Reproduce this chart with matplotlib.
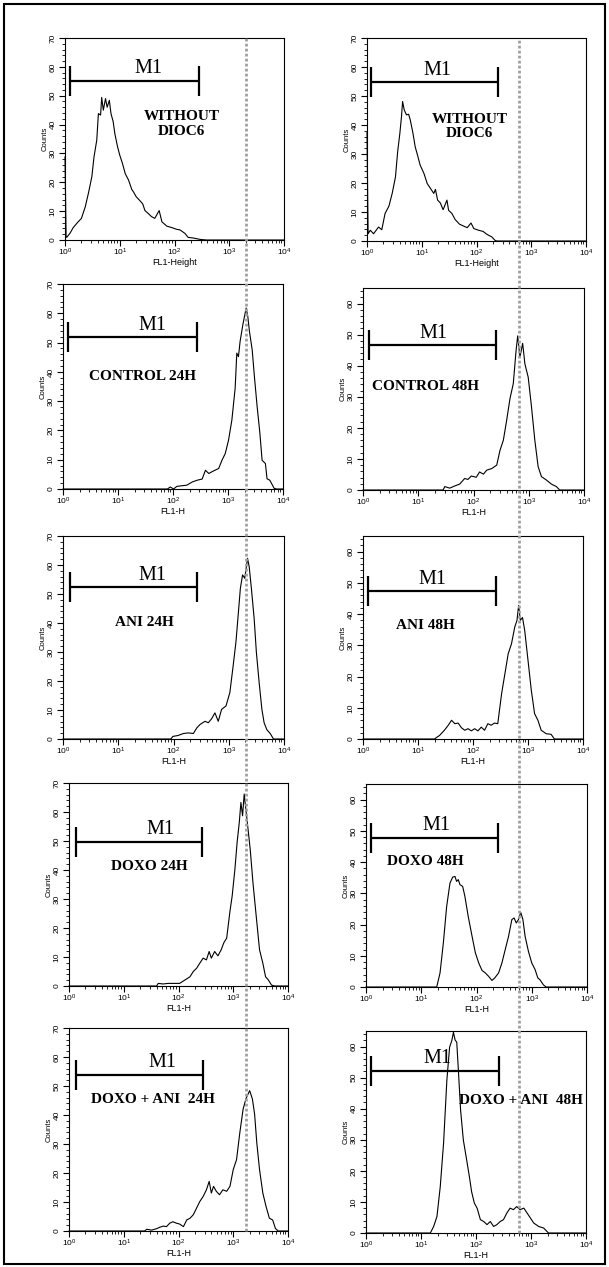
import matplotlib
matplotlib.use("Agg")
import matplotlib.pyplot as plt
from matplotlib.lines import Line2D
from matplotlib.patches import Rectangle
from matplotlib.ticker import LogLocator, MultipleLocator, NullFormatter
import numpy as np

plt.rcParams['font.family'] = ['Liberation Sans', 'DejaVu Sans']
plt.rcParams['mathtext.default'] = 'regular'

W, H = 609, 1267

# histograms: FL1 position in decades (log10) and counts
fl1_without_a = [0.00, 0.02, 0.03, 0.09, 0.15, 0.24, 0.30, 0.37, 0.43, 0.49, 0.53, 0.58, 0.61, 0.65, 0.67, 0.70,
                 0.74, 0.77, 0.81, 0.84, 0.88, 0.91, 0.96, 1.00, 1.05, 1.10, 1.16, 1.22, 1.25, 1.30, 1.36, 1.42,
                 1.46, 1.52, 1.58, 1.64, 1.72, 1.77, 1.86, 1.95, 2.04, 2.10, 2.19, 2.25, 2.34, 2.47, 2.59, 4.00]
cnt_without_a = [28.8, 1.2, 0.9, 2.3, 4.3, 6.3, 7.5, 11.5, 16.4, 21.9, 28.8, 34.6, 43.8, 43.3, 49.4, 45.0,
                 49.0, 46.0, 48.4, 43.8, 41.0, 36.9, 32.3, 29.4, 26.5, 23.0, 20.8, 17.5, 16.7, 15.0, 13.8, 12.5,
                 10.2, 9.2, 8.1, 7.5, 10.2, 6.3, 4.8, 4.3, 3.7, 3.5, 2.3, 0.9, 0.7, 0.2, 0.0, 0.0]

fl1_without_b = [0.00, 0.02, 0.06, 0.12, 0.21, 0.27, 0.33, 0.40, 0.46, 0.52, 0.56, 0.60, 0.63, 0.65, 0.68, 0.72,
                 0.76, 0.79, 0.84, 0.88, 0.93, 0.97, 1.04, 1.10, 1.16, 1.22, 1.25, 1.29, 1.34, 1.39, 1.46, 1.49,
                 1.55, 1.61, 1.69, 1.77, 1.83, 1.90, 1.95, 2.04, 2.12, 2.19, 2.28, 2.34, 2.37, 4.00]
cnt_without_b = [37.4, 2.5, 3.7, 2.5, 4.8, 3.9, 9.5, 12.0, 16.4, 22.1, 30.8, 37.1, 42.9, 48.1, 45.2, 43.5,
                 43.7, 41.8, 37.1, 32.5, 29.1, 26.2, 23.3, 19.8, 18.1, 16.4, 17.8, 14.1, 13.1, 10.8, 14.1, 10.6,
                 9.5, 7.4, 5.8, 5.1, 4.6, 6.2, 4.3, 3.7, 3.3, 2.3, 1.4, 0.2, 0.0, 0.0]

fl1_control_24 = [0.00, 1.90, 1.95, 2.01, 2.07, 2.16, 2.25, 2.35, 2.44, 2.53, 2.59, 2.65, 2.74, 2.83, 2.89, 2.95,
                  3.01, 3.07, 3.13, 3.16, 3.19, 3.22, 3.27, 3.33, 3.36, 3.39, 3.44, 3.48, 3.53, 3.58, 3.62, 3.68,
                  3.71, 3.76, 3.80, 3.84, 3.89, 4.00]
cnt_control_24 = [0.0, 0.0, 0.7, 0.0, 0.9, 1.1, 1.3, 2.4, 3.0, 3.4, 6.4, 5.3, 6.2, 7.0, 9.8, 12.1,
                  16.7, 23.5, 34.4, 46.4, 45.2, 50.4, 56.1, 61.8, 58.9, 53.8, 47.5, 38.4, 28.1, 19.0, 9.8, 8.7,
                  3.5, 3.0, 1.6, 0.2, 0.0, 0.0]

fl1_control_48 = [0.00, 1.45, 1.48, 1.57, 1.66, 1.75, 1.84, 1.90, 1.96, 2.05, 2.11, 2.18, 2.24, 2.33, 2.42, 2.48,
                  2.54, 2.60, 2.66, 2.72, 2.77, 2.80, 2.84, 2.89, 2.93, 2.99, 3.05, 3.11, 3.17, 3.23, 3.32, 3.41,
                  3.50, 3.56, 4.00]
cnt_control_48 = [0.0, 0.0, 1.1, 0.6, 1.3, 1.9, 3.7, 3.4, 4.5, 4.1, 5.8, 5.1, 6.4, 6.9, 8.0, 12.8,
                  16.0, 22.4, 29.4, 34.2, 44.8, 49.6, 42.7, 47.2, 40.6, 36.3, 26.7, 16.0, 7.5, 4.3, 3.2, 1.9,
                  1.1, 0.0, 0.0]

fl1_ani_24 = [0.00, 1.95, 1.99, 2.08, 2.18, 2.27, 2.36, 2.42, 2.48, 2.57, 2.63, 2.69, 2.75, 2.81, 2.87, 2.95,
              3.02, 3.08, 3.13, 3.17, 3.21, 3.25, 3.29, 3.34, 3.37, 3.41, 3.46, 3.50, 3.55, 3.60, 3.64, 3.69,
              3.75, 3.81, 4.00]
cnt_ani_24 = [0.0, 0.0, 0.9, 1.2, 1.9, 2.1, 1.9, 3.8, 5.0, 6.1, 5.6, 7.0, 9.0, 6.1, 10.2, 11.4,
              16.0, 25.3, 33.4, 42.6, 51.9, 56.6, 55.4, 62.3, 59.4, 51.9, 41.5, 29.9, 19.5, 10.2, 5.6, 3.2,
              1.9, 0.0, 0.0]

fl1_ani_48 = [0.00, 1.30, 1.33, 1.39, 1.48, 1.55, 1.61, 1.67, 1.73, 1.79, 1.85, 1.91, 1.97, 2.03, 2.09, 2.15,
              2.21, 2.27, 2.33, 2.39, 2.45, 2.52, 2.58, 2.64, 2.70, 2.76, 2.80, 2.83, 2.86, 2.90, 2.94, 3.00,
              3.06, 3.12, 3.18, 3.24, 3.33, 3.42, 3.48, 4.00]
cnt_ani_48 = [0.0, 0.0, 0.4, 1.1, 2.8, 4.4, 6.0, 4.9, 5.1, 3.6, 2.8, 3.3, 2.6, 3.3, 2.6, 3.8,
              2.8, 4.9, 4.4, 5.1, 4.9, 14.5, 20.9, 27.3, 30.5, 35.9, 38.0, 42.8, 38.0, 38.9, 34.8, 25.2,
              15.6, 8.1, 6.0, 2.8, 1.7, 1.5, 0.0, 0.0]

fl1_doxo_24 = [0.00, 1.60, 1.63, 1.72, 1.81, 2.02, 2.12, 2.21, 2.27, 2.33, 2.39, 2.45, 2.51, 2.56, 2.60, 2.66,
               2.72, 2.78, 2.83, 2.88, 2.94, 2.98, 3.03, 3.07, 3.11, 3.14, 3.17, 3.20, 3.23, 3.27, 3.31, 3.36,
               3.42, 3.48, 3.54, 3.59, 3.64, 3.70, 3.76, 4.00]
cnt_doxo_24 = [0.0, 0.0, 0.9, 0.7, 0.9, 0.9, 2.1, 3.2, 5.0, 6.1, 7.9, 9.6, 9.0, 11.9, 9.6, 11.9,
               10.4, 12.5, 15.0, 16.5, 25.8, 31.0, 40.2, 49.4, 56.4, 63.3, 58.7, 66.2, 61.0, 54.1, 47.1, 35.6,
               24.0, 12.5, 7.9, 3.2, 2.1, 0.3, 0.0, 0.0]

fl1_doxo_48 = [0.00, 1.28, 1.34, 1.40, 1.46, 1.52, 1.57, 1.61, 1.64, 1.67, 1.70, 1.75, 1.79, 1.85, 1.92, 1.98,
               2.04, 2.10, 2.16, 2.22, 2.28, 2.33, 2.40, 2.46, 2.52, 2.58, 2.64, 2.68, 2.72, 2.76, 2.80, 2.84,
               2.88, 2.94, 3.00, 3.06, 3.11, 3.15, 3.21, 3.26, 4.00]
cnt_doxo_48 = [0.0, 0.0, 4.5, 14.1, 25.8, 33.3, 35.2, 35.4, 33.8, 34.4, 32.8, 32.2, 29.0, 22.6, 16.2, 10.9,
               7.7, 5.3, 4.5, 3.4, 2.1, 2.9, 4.5, 7.7, 12.0, 16.2, 21.6, 22.1, 20.5, 21.6, 23.9, 21.6,
               16.2, 11.4, 7.7, 5.6, 2.9, 2.3, 0.7, 0.0, 0.0]

fl1_combo_24 = [0.00, 1.38, 1.42, 1.51, 1.60, 1.66, 1.72, 1.78, 1.84, 1.90, 1.96, 2.02, 2.09, 2.15, 2.21, 2.27,
                2.33, 2.39, 2.45, 2.51, 2.56, 2.60, 2.64, 2.69, 2.75, 2.81, 2.88, 2.94, 3.00, 3.06, 3.12, 3.18,
                3.23, 3.27, 3.30, 3.35, 3.39, 3.43, 3.48, 3.54, 3.60, 3.66, 3.72, 3.77, 3.82, 4.00]
cnt_combo_24 = [0.0, 0.0, 0.6, 0.3, 0.8, 1.3, 1.7, 1.5, 2.7, 3.2, 2.7, 2.4, 1.5, 3.8, 4.4, 5.6,
                7.9, 10.2, 11.9, 14.2, 17.1, 13.1, 15.4, 13.7, 12.5, 14.2, 13.7, 15.4, 21.2, 24.6, 33.9, 42.0,
                45.5, 47.2, 48.4, 45.5, 40.3, 30.4, 21.2, 13.1, 8.4, 4.4, 3.8, 0.9, 0.0, 0.0]

fl1_combo_48 = [0.00, 1.17, 1.23, 1.29, 1.35, 1.41, 1.47, 1.52, 1.56, 1.59, 1.62, 1.65, 1.68, 1.72, 1.77, 1.82,
                1.88, 1.92, 1.97, 2.02, 2.08, 2.14, 2.20, 2.26, 2.32, 2.38, 2.44, 2.50, 2.56, 2.62, 2.68, 2.74,
                2.80, 2.87, 2.93, 2.99, 3.05, 3.14, 3.23, 3.29, 3.32, 4.00]
cnt_combo_48 = [0.0, 0.0, 2.1, 5.3, 14.9, 28.8, 49.1, 59.8, 61.9, 64.6, 62.1, 61.4, 52.3, 39.5, 29.9, 24.6,
                18.1, 13.3, 9.6, 8.0, 4.3, 3.7, 2.7, 3.7, 2.1, 2.7, 3.7, 4.3, 6.4, 8.0, 7.5, 8.5,
                7.5, 8.0, 6.4, 4.8, 3.2, 2.1, 1.6, 0.5, 0.0, 0.0]

fl1_series = [fl1_without_a, fl1_without_b, fl1_control_24, fl1_control_48, fl1_ani_24, fl1_ani_48,
              fl1_doxo_24, fl1_doxo_48, fl1_combo_24, fl1_combo_48]
cnt_series = [cnt_without_a, cnt_without_b, cnt_control_24, cnt_control_48, cnt_ani_24, cnt_ani_48,
              cnt_doxo_24, cnt_doxo_48, cnt_combo_24, cnt_combo_48]

labels = ["WITHOUT\nDIOC6", "WITHOUT\nDIOC6", "CONTROL 24H", "CONTROL 48H", "ANI 24H", "ANI 48H",
          "DOXO 24H", "DOXO 48H", "DOXO + ANI  24H", "DOXO + ANI  48H"]
label_pos = [(2.13, 40.2), (1.88, 39.5), (1.45, 38.4), (1.14, 33.4), (1.48, 40.3), (1.13, 36.2),
             (1.47, 41.1), (1.07, 40.1), (1.53, 45.5), (2.82, 42.7)]
xlabels = ["FL1-Height", "FL1-Height"] + ["FL1-H"] * 8
ymax = [70, 70, 70, 65, 70, 65, 70, 65, 70, 65]

# M1 gate: left/right edge (decades), level (counts), label position (decades)
gate_lo = [0.09, 0.07, 0.09, 0.10, 0.13, 0.09, 0.12, 0.09, 0.13, 0.09]
gate_hi = [2.45, 2.39, 2.43, 2.40, 2.43, 2.41, 2.43, 2.39, 2.44, 2.41]
gate_y = [55.1, 54.7, 51.8, 46.5, 52.3, 47.3, 49.7, 47.7, 53.8, 52.1]
gate_label_x = [1.52, 1.28, 1.62, 1.27, 1.62, 1.27, 1.67, 1.28, 1.70, 1.29]

# reference channel of the dotted marker, per column
marker_fl1 = [2000, 600]

# axes boxes in pixels: x0, y0, x1, y1 (top-left origin)
boxes = [(65, 38, 284, 240), (367, 38, 586, 241),
         (63, 284, 283, 489), (363, 288, 584, 490),
         (63, 536, 284, 739), (363, 536, 583, 739),
         (69, 783, 288, 986), (366, 784, 587, 987),
         (69, 1028, 288, 1231), (366, 1031, 586, 1233)]

fig = plt.figure(figsize=(W / 100, H / 100), dpi=100)
axes = []
for i, (x0, y0, x1, y1) in enumerate(boxes):
    ax = fig.add_axes([x0 / W, 1 - y1 / H, (x1 - x0) / W, (y1 - y0) / H])
    axes.append(ax)
    ax.set_xscale('log')
    ax.set_xlim(1, 1e4)
    ax.set_ylim(0, ymax[i])
    ax.xaxis.set_major_locator(LogLocator(base=10, numticks=10))
    ax.xaxis.set_minor_locator(LogLocator(base=10, subs=np.arange(2, 10), numticks=10))
    ax.xaxis.set_minor_formatter(NullFormatter())
    ax.yaxis.set_major_locator(MultipleLocator(10))
    ax.yaxis.set_minor_locator(MultipleLocator(2))
    ax.tick_params(which='major', direction='out', length=4, width=0.8, labelsize=6, pad=1)
    ax.tick_params(which='minor', direction='out', length=2.2, width=0.6)
    ax.tick_params(axis='y', pad=2)
    for t in ax.get_yticklabels():
        t.set_rotation(90)
        t.set_va('center')
    for sp in ax.spines.values():
        sp.set_linewidth(0.8)
    ax.set_ylabel("Counts", fontsize=5.5, labelpad=1)
    ax.set_xlabel(xlabels[i], fontsize=6.5, labelpad=0)

    x = 10 ** np.array(fl1_series[i])
    ax.plot(x, cnt_series[i], color='black', lw=0.8, clip_on=False)

    # M1 gate bar
    ax.plot([10 ** gate_lo[i], 10 ** gate_hi[i]], [gate_y[i], gate_y[i]], color='black', lw=1.6,
            marker='|', markersize=21, mew=1.6, solid_capstyle='butt')
    ax.annotate("M1", xy=(10 ** gate_label_x[i], gate_y[i]), xytext=(0, 2), textcoords='offset points',
                ha='center', va='bottom', family='Liberation Serif', fontsize=14.5)

    lx, ly = label_pos[i]
    ax.text(10 ** lx, ly, labels[i], ha='center', va='center', family='Liberation Serif',
            fontweight='bold', fontsize=11, linespacing=1.15)

# dotted marker line through each column
inv = fig.transFigure.inverted()
for col in range(2):
    top_ax, bot_ax = axes[col], axes[8 + col]
    xf = inv.transform(top_ax.transData.transform((marker_fl1[col], 0)))[0]
    y_top = top_ax.get_position().y1
    y_bot = bot_ax.get_position().y0
    fig.add_artist(Line2D([xf, xf], [y_bot, y_top], transform=fig.transFigure, color='#a0a0a0',
                          lw=2.0, linestyle=(0, (1, 0.8)), zorder=5))

# outer frame
fig.add_artist(Rectangle((4 / W, 3 / H), (W - 8) / W, (H - 7) / H, transform=fig.transFigure,
                         fill=False, ec='black', lw=1.5))

fig.savefig('out.png', dpi=100)
